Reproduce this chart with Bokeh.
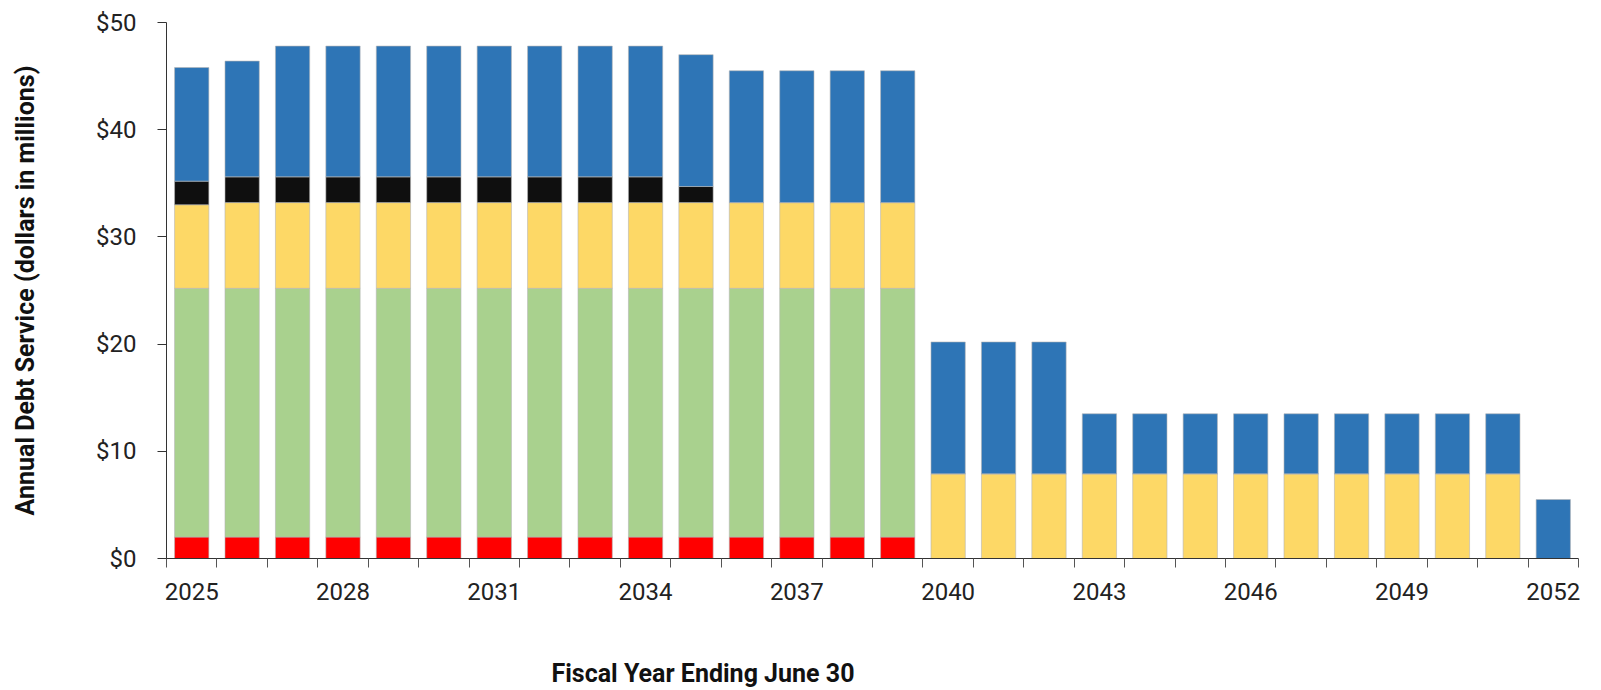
from bokeh.plotting import figure
from bokeh.models import (ColumnDataSource, Range1d, FixedTicker, PrintfTickFormatter,
                          Title)
from bokeh.embed import file_html
from bokeh.resources import INLINE

years = list(range(2025, 2053))
red = [2.0] * 15 + [0.0] * 13
green = [23.2] * 15 + [0.0] * 13
yellow = [7.8] + [8.0] * 14 + [7.9] * 12 + [0.0]
black = [2.2] + [2.4] * 9 + [1.5] + [0.0] * 17
blue = [10.6, 10.8] + [12.2] * 8 + [12.3] * 5 + [12.3] * 3 + [5.6] * 9 + [5.5]

series = ["red", "green", "yellow", "black", "blue"]
colors = ["#FF0000", "#A9D18E", "#FDD866", "#0F0F0F", "#2E75B6"]
y_ticks = [0, 10, 20, 30, 40, 50]
x_label_years = [2025, 2028, 2031, 2034, 2037, 2040, 2043, 2046, 2049, 2052]

src = ColumnDataSource(dict(year=years, red=red, green=green, yellow=yellow,
                            black=black, blue=blue))

FONT = "Roboto"
p = figure(width=1601, height=690, output_backend="svg", toolbar_location=None,
           x_range=Range1d(years[0] - 0.5, years[-1] + 0.5),
           y_range=Range1d(0, 50),
           min_border_left=166, min_border_right=23, min_border_top=22,
           min_border_bottom=132)
p.outline_line_color = None
p.xgrid.grid_line_color = None
p.ygrid.grid_line_color = None

p.vbar_stack(series, x="year", width=0.68, source=src, fill_color=colors,
             line_color="#b5b5b5", line_width=0.6)

# y axis
ya = p.yaxis[0]
ya.ticker = FixedTicker(ticks=y_ticks)
ya.formatter = PrintfTickFormatter(format="$%d")
ya.axis_line_color = "#333333"
ya.major_tick_line_color = "#333333"
ya.major_tick_out = 9
ya.major_tick_in = 0
ya.minor_tick_line_color = None
ya.major_label_text_font = FONT
ya.major_label_text_font_size = "24px"
ya.major_label_text_color = "#222222"
ya.major_label_standoff = 21
ya.axis_label = "Annual Debt Service (dollars in millions)"
ya.axis_label_text_font = FONT
ya.axis_label_text_font_size = "25px"
ya.axis_label_text_font_style = "bold"
ya.axis_label_text_color = "#111111"
ya.axis_label_standoff = 53

# x axis
xa = p.xaxis[0]
bounds = [y - 0.5 for y in years] + [years[-1] + 0.5]
xa.ticker = FixedTicker(ticks=x_label_years, minor_ticks=bounds)
xa.formatter = PrintfTickFormatter(format="%d")
xa.axis_line_color = "#333333"
xa.major_tick_out = 0
xa.major_tick_in = 0
xa.minor_tick_line_color = "#555555"
xa.minor_tick_out = 9
xa.minor_tick_in = 0
xa.major_label_text_font = FONT
xa.major_label_text_font_size = "24px"
xa.major_label_text_color = "#222222"
xa.major_label_standoff = 15

# spacer between the axis and the x-axis title
p.add_layout(Title(text=" ", text_font_size="1px", standoff=51), "below")
p.add_layout(Title(text="Fiscal Year Ending June 30", align="left", offset=385,
                   standoff=0, text_font=FONT, text_font_size="25px",
                   text_font_style="bold", text_color="#111111"), "below")

open("out.html", "w").write(file_html(p, INLINE))
